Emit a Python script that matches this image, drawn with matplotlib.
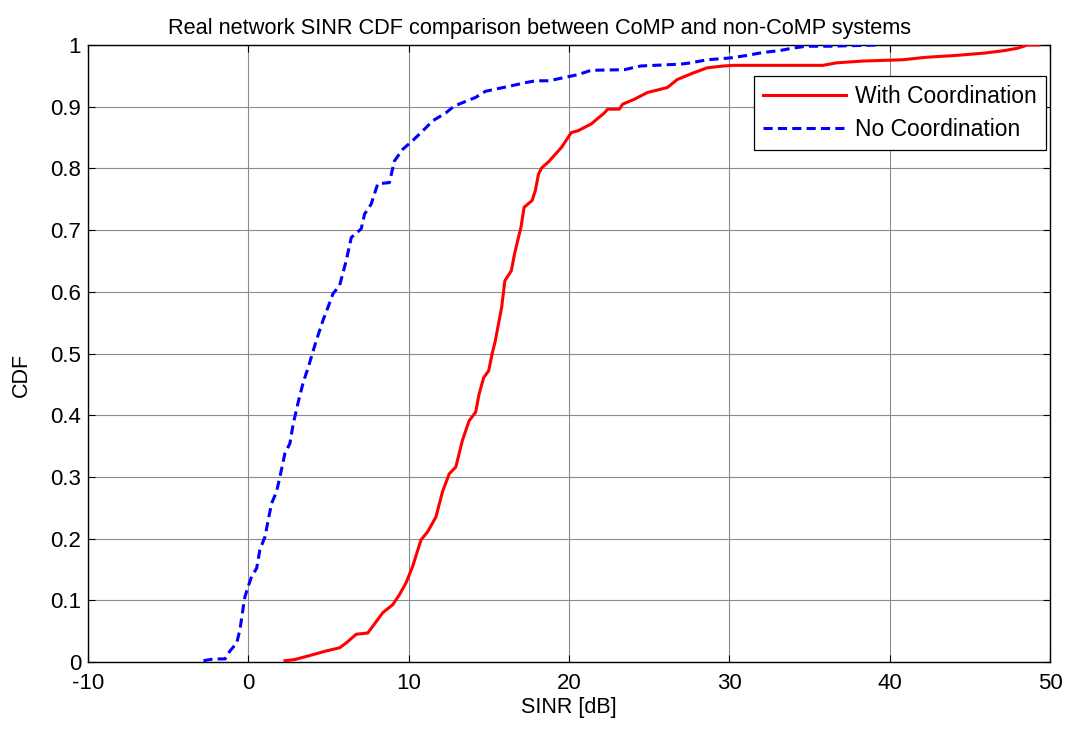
import matplotlib
matplotlib.use("Agg")
import matplotlib.pyplot as plt

# Data
wc_x = [2.28, 2.90, 4.04, 4.87, 5.69, 6.11, 6.73, 7.45, 7.76, 8.39, 9.01, 9.42, 9.83, 10.25, 10.77,
        11.18, 11.70, 12.11, 12.53, 12.94, 13.35, 13.77, 14.18, 14.39, 14.68, 14.99, 15.2, 15.4, 15.8,
        16.0, 16.4, 16.6, 16.8, 17.0, 17.2, 17.7, 17.9, 18.1, 18.3, 18.7, 19.53, 20.14, 20.56, 21.38,
        22.21, 22.41, 23.14, 23.34, 24.07, 24.89, 26.13, 26.75, 27.78, 28.61, 29.64, 30.26, 35.83,
        36.66, 38.31, 40.78, 42.23, 44.09, 45.94, 47.18, 48.0, 48.6, 49.3]
wc_y = [0.002, 0.004, 0.012, 0.018, 0.023, 0.031, 0.045, 0.047, 0.058, 0.080, 0.093, 0.109, 0.128,
        0.155, 0.198, 0.211, 0.235, 0.276, 0.305, 0.316, 0.359, 0.391, 0.405, 0.434, 0.461, 0.472,
        0.499, 0.52, 0.575, 0.618, 0.634, 0.661, 0.683, 0.704, 0.737, 0.748, 0.764, 0.791, 0.801,
        0.810, 0.834, 0.858, 0.861, 0.872, 0.890, 0.896, 0.896, 0.904, 0.912, 0.923, 0.931, 0.944,
        0.955, 0.963, 0.966, 0.967, 0.967, 0.971, 0.974, 0.976, 0.980, 0.983, 0.987, 0.991, 0.995,
        1.0, 1.0]

nc_x = [-2.8, -2.17, -1.45, -1.14, -0.72, -0.52, -0.31, -0.21, 0.0, 0.21, 0.52, 0.72, 1.04, 1.24,
        1.45, 1.76, 1.97, 2.28, 2.59, 2.80, 3.11, 3.42, 3.73, 4.04, 4.24, 4.66, 4.97, 5.28, 5.69,
        6.11, 6.42, 7.04, 7.25, 7.66, 8.07, 8.80, 9.11, 9.63, 10.25, 11.08, 11.49, 12.32, 12.84,
        13.5, 14.17, 14.79, 16.25, 17.29, 17.92, 18.75, 20.56, 21.38, 23.45, 24.48, 26.96, 27.57,
        28.61, 30.05, 31.08, 32.12, 33.15, 33.97, 34.8, 36.2, 39.3]
nc_y = [0.002, 0.005, 0.005, 0.018, 0.031, 0.053, 0.090, 0.106, 0.123, 0.139, 0.152, 0.182, 0.203,
        0.230, 0.257, 0.276, 0.300, 0.338, 0.354, 0.386, 0.421, 0.453, 0.477, 0.504, 0.521, 0.554,
        0.575, 0.597, 0.610, 0.651, 0.688, 0.702, 0.726, 0.742, 0.775, 0.777, 0.812, 0.831, 0.845,
        0.866, 0.877, 0.890, 0.901, 0.908, 0.915, 0.925, 0.933, 0.939, 0.942, 0.942, 0.952, 0.959,
        0.960, 0.966, 0.969, 0.971, 0.976, 0.979, 0.983, 0.988, 0.991, 0.995, 0.998, 0.998, 1.0]

x_ticks = [-10, 0, 10, 20, 30, 40, 50]
y_ticks = [0, 0.1, 0.2, 0.3, 0.4, 0.5, 0.6, 0.7, 0.8, 0.9, 1]
y_ticklabels = ["0", "0.1", "0.2", "0.3", "0.4", "0.5", "0.6", "0.7", "0.8", "0.9", "1"]

plt.rcParams['font.family'] = ['Liberation Sans', 'DejaVu Sans']
FS_TICK = 16
FS_LEG = 16.5
FS_TITLE = 15.7
FS_LABEL = 15.5

fig = plt.figure(figsize=(10.79, 7.31), dpi=100)
ax = fig.add_axes([88 / 1079, 1 - 662 / 731, (1050 - 88) / 1079, (662 - 45) / 731])

ax.plot(wc_x, wc_y, color='#ff0000', lw=2.2, label='With Coordination', zorder=3)
ax.plot(nc_x, nc_y, color='#0000ff', lw=2.2, ls='--', dashes=(3.0, 1.7),
        label='No Coordination', zorder=3)

ax.set_xlim(-10, 50)
ax.set_ylim(0, 1)
ax.set_xticks(x_ticks)
ax.set_xticklabels([str(t) for t in x_ticks])
ax.set_yticks(y_ticks)
ax.set_yticklabels(y_ticklabels)
ax.tick_params(direction='in', length=5, width=0.8, top=True, right=True,
               labelsize=FS_TICK, pad=5, colors='black')
ax.tick_params(axis='x', pad=8)
ax.grid(True, color='#8c8c8c', lw=0.8, zorder=0)
for s in ax.spines.values():
    s.set_linewidth(1.0)
    s.set_color('black')

ax.set_title('Real network SINR CDF comparison between CoMP and non-CoMP systems',
             fontsize=FS_TITLE, pad=8, x=(539 - 88) / 962)
ax.set_xlabel('SINR [dB]', fontsize=FS_LABEL, labelpad=2)
ax.set_ylabel('CDF', fontsize=FS_LABEL)
ax.yaxis.set_label_coords((32 - 88) / 962, (662 - 375) / 617)

leg = ax.legend(loc='upper right', fontsize=FS_LEG, frameon=True, fancybox=False,
                edgecolor='black', framealpha=1, handlelength=3.6, handletextpad=0.4,
                borderaxespad=0.0, bbox_to_anchor=((1046 - 88) / 962, (662 - 76) / 617),
                borderpad=0.4, labelspacing=0.42)
leg.get_frame().set_linewidth(0.9)

fig.savefig('out.png', dpi=100)
